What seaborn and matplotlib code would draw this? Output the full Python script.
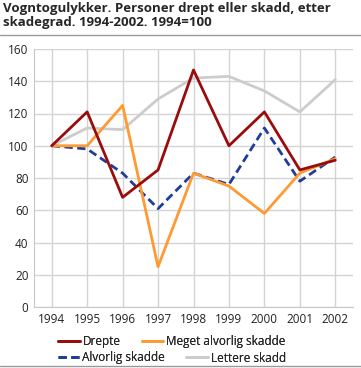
import pandas as pd
import matplotlib.pyplot as plt
import seaborn as sns

# Data
years = [1994, 1995, 1996, 1997, 1998, 1999, 2000, 2001, 2002]
drepte = [100, 121, 68, 85, 147, 100, 121, 85, 91]
meget_alvorlig = [100, 100, 125, 25, 83, 75, 58, 83, 92]
alvorlig = [100, 98, 83, 61, 83, 76, 111, 78, 93]
lettere = [100, 111, 110, 129, 142, 143, 134, 121, 141]

series = {
    "Drepte": drepte,
    "Meget alvorlig skadde": meget_alvorlig,
    "Alvorlig skadde": alvorlig,
    "Lettere skadd": lettere,
}
df = pd.concat(
    [pd.DataFrame({"År": years, "Indeks": v, "Skadegrad": k}) for k, v in series.items()],
    ignore_index=True)

palette = {
    "Drepte": "#990c0c",
    "Meget alvorlig skadde": "#ff9a33",
    "Alvorlig skadde": "#1f3d99",
    "Lettere skadd": "#cccccc",
}
dashes = {
    "Drepte": "",
    "Meget alvorlig skadde": "",
    "Alvorlig skadde": (3, 1.6),
    "Lettere skadd": "",
}
order = ["Lettere skadd", "Alvorlig skadde", "Meget alvorlig skadde", "Drepte"]

sns.set_style("white")
plt.rcParams["font.family"] = ["Open Sans", "DejaVu Sans"]

fig = plt.figure(figsize=(3.61, 3.68), dpi=100)
ax = fig.add_axes([34 / 361, 1 - 307 / 368, 319 / 361, 258 / 368])

sns.lineplot(data=df, x="År", y="Indeks", hue="Skadegrad", style="Skadegrad",
             hue_order=order, style_order=order, palette=palette, dashes=dashes,
             linewidth=2, ax=ax, legend=False)

ax.set_xlim(1993.5, 2002.5)
ax.set_ylim(0, 160)
ax.set_xticks(years)
ax.set_yticks(range(0, 161, 20))
ax.grid(True, color="#d4d4d4", linewidth=1)
ax.set_axisbelow(True)
for s in ["top", "right"]:
    ax.spines[s].set_visible(False)
for s in ["left", "bottom"]:
    ax.spines[s].set_color("#c8c8c8")
ax.tick_params(axis="both", length=0, labelsize=8.5, colors="#222222", pad=4)
ax.set_xlabel("")
ax.set_ylabel("")


def handle(name):
    ls = (0, (3, 1.6)) if name == "Alvorlig skadde" else "-"
    return plt.Line2D([], [], color=palette[name], linewidth=2, linestyle=ls)


# Legend: two rows, each laid out on its own like the reference
legend_rows = [["Drepte", "Meget alvorlig skadde"], ["Alvorlig skadde", "Lettere skadd"]]
row_y = [1 - 342 / 368, 1 - 358 / 368]
for names, y in zip(legend_rows, row_y):
    leg = fig.legend([handle(n) for n in names], names, loc="center",
                     bbox_to_anchor=(172 / 361, y), ncol=2, frameon=False,
                     fontsize=8.5, handlelength=1.8, handletextpad=0.25,
                     columnspacing=1.8, borderpad=0, borderaxespad=0)
    fig.add_artist(leg)

fig.text(0.008, 0.995, "Vogntogulykker. Personer drept eller skadd, etter\nskadegrad. 1994-2002. 1994=100",
         ha="left", va="top", fontsize=9.5, fontweight="bold", linespacing=1.15)
fig.add_artist(plt.Line2D([0, 1], [1 - 35 / 368] * 2, color="#999999", linewidth=1))
fig.add_artist(plt.Line2D([0, 1], [1 - 366 / 368] * 2, color="#999999", linewidth=1))

fig.savefig("out.png", dpi=100)
